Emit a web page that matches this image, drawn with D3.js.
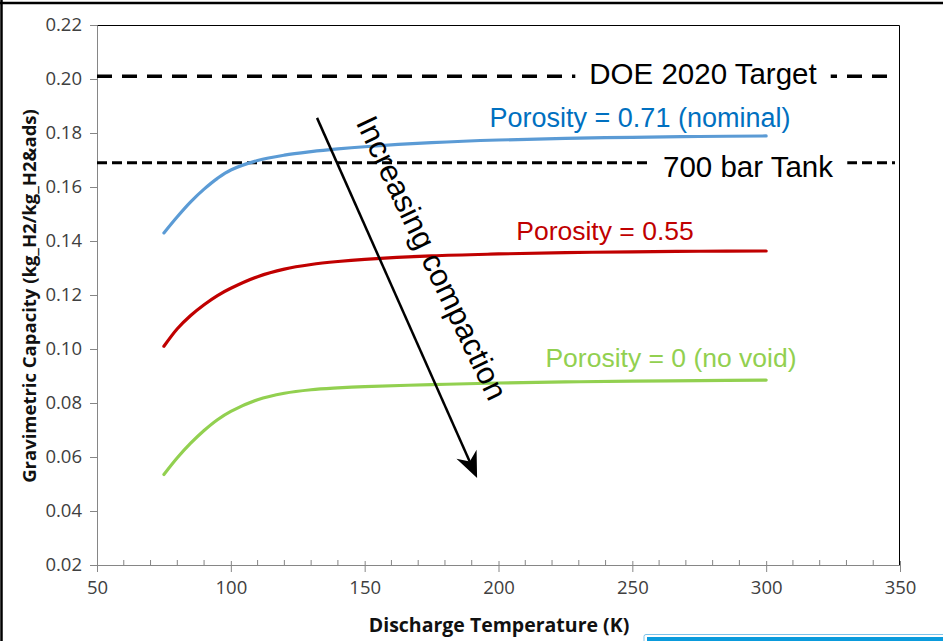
<!DOCTYPE html>
<html>
<head>
<meta charset="utf-8">
<script src="https://cdn.jsdelivr.net/npm/d3@7"></script>
<style>
html,body{margin:0;padding:0;background:#fff;}
svg{display:block;}
</style>
</head>
<body>
<svg id="chart" width="943" height="641"></svg>
<script>
// ---- data ----
const temperatures = [75, 80, 85, 90, 95, 100, 110, 120, 130, 140, 150, 175, 200, 225, 250, 275, 300];
const porosity071 = [0.143, 0.149, 0.1545, 0.1592, 0.1632, 0.1663, 0.1698, 0.1718, 0.1731, 0.1741, 0.1749, 0.1764, 0.1774, 0.178, 0.1784, 0.1787, 0.1789];
const porosity055 = [0.101, 0.1075, 0.1124, 0.1164, 0.1198, 0.1225, 0.1268, 0.1296, 0.1313, 0.1324, 0.1332, 0.1345, 0.1352, 0.1357, 0.136, 0.1362, 0.1363];
const porosity000 = [0.0535, 0.0597, 0.0651, 0.0698, 0.0738, 0.0769, 0.0812, 0.0836, 0.0849, 0.0856, 0.0861, 0.0868, 0.0874, 0.0878, 0.0881, 0.0883, 0.0885];
const seriesNames = ["Porosity = 0.71 (nominal)", "Porosity = 0.55", "Porosity = 0 (no void)"];
const doeTarget = 0.201;
const tank700 = 0.169;
const xTicks = [50, 100, 150, 200, 250, 300, 350];
const yTicks = [0.02, 0.04, 0.06, 0.08, 0.10, 0.12, 0.14, 0.16, 0.18, 0.20, 0.22];
const arrowFrom = [132.2, 0.1856];
const arrowTo = [192, 0.0522];

// ---- layout ----
const svg = d3.select("#chart");
const x = d3.scaleLinear().domain([50, 350]).range([97, 900]);
const y = d3.scaleLinear().domain([0.02, 0.22]).range([565, 25]);
const font = "'Liberation Sans', Arial, sans-serif";
const tickFont = "'Open Sans', 'Noto Sans', sans-serif";

// outer frame
svg.append("line").attr("x1", 0).attr("x2", 943).attr("y1", 3).attr("y2", 3).attr("stroke", "#000").attr("stroke-width", 2.5);
svg.append("line").attr("x1", 1.5).attr("x2", 1.5).attr("y1", 0).attr("y2", 641).attr("stroke", "#000").attr("stroke-width", 2.5);

// plot border (top & right)
svg.append("path")
  .attr("d", `M${x(50)},${y(0.22)+0.5}H${x(350)-0.5}V${y(0.02)}`)
  .attr("fill", "none").attr("stroke", "#000").attr("stroke-width", 1);

// y axis
const yAxis = svg.append("g").attr("transform", `translate(${x(50)},0)`)
  .call(d3.axisLeft(y).tickValues(yTicks).tickFormat(d3.format(".2f")).tickSize(7).tickPadding(8));
yAxis.select(".domain").attr("stroke", "#868686");
yAxis.selectAll(".tick line").attr("stroke", "#868686");
yAxis.selectAll("text").attr("font-family", tickFont).attr("font-size", 18.5).attr("fill", "#404040");

// x axis
const xAxis = svg.append("g").attr("transform", `translate(0,${y(0.02)})`)
  .call(d3.axisBottom(x).tickValues(xTicks).tickFormat(d3.format("d")).tickSize(7).tickPadding(9));
xAxis.select(".domain").attr("stroke", "#868686");
xAxis.selectAll(".tick line").attr("stroke", "#868686").attr("y1", -4);
xAxis.selectAll("text").attr("font-family", tickFont).attr("font-size", 18.5).attr("fill", "#404040");
// minor ticks
const minor = d3.range(60, 350, 10).filter(v => v % 50 !== 0);
xAxis.selectAll(".minor").data(minor).enter().append("line")
  .attr("x1", d => x(d)).attr("x2", d => x(d)).attr("y1", -5).attr("y2", 0)
  .attr("stroke", "#868686");

// axis titles
svg.append("text").attr("x", 499).attr("y", 632).attr("text-anchor", "middle")
  .attr("font-family", "'Open Sans', sans-serif").attr("font-weight", "bold").attr("font-size", 19.5).attr("fill", "#111")
  .text("Discharge Temperature (K)");
svg.append("text").attr("transform", "translate(36,296) rotate(-90)").attr("text-anchor", "middle")
  .attr("font-family", "'Open Sans', sans-serif").attr("font-weight", "bold").attr("font-size", 18.5).attr("fill", "#111")
  .text("Gravimetric Capacity (kg_H2/kg_H2&ads)");

// reference lines
svg.append("line").attr("x1", x(50)).attr("x2", x(350) - 7).attr("y1", y(doeTarget)).attr("y2", y(doeTarget))
  .attr("stroke", "#000").attr("stroke-width", 3.5).attr("stroke-dasharray", "15,10");
svg.append("line").attr("x1", x(50)).attr("x2", x(350) - 5).attr("y1", y(tank700)).attr("y2", y(tank700))
  .attr("stroke", "#000").attr("stroke-width", 3).attr("stroke-dasharray", "10,5");

// ref labels with white background
function refLabel(txt, cx, cy) {
  const g = svg.append("g");
  const t = g.append("text").attr("x", cx).attr("y", cy).attr("text-anchor", "middle")
    .attr("dominant-baseline", "central").attr("font-family", font).attr("font-size", 29.5).attr("fill", "#000").text(txt);
  const bb = t.node().getBBox();
  g.insert("rect", "text").attr("x", bb.x - 14).attr("y", bb.y).attr("width", bb.width + 28).attr("height", bb.height).attr("fill", "#fff");
}
refLabel("DOE 2020 Target", 703, y(doeTarget) - 3);
refLabel("700 bar Tank", 748, y(tank700) + 4);

// curves
const line = d3.line().x(d => x(d[0])).y(d => y(d[1])).curve(d3.curveCatmullRom.alpha(0.5));
const series = [
  { vals: porosity071, color: "#5B9BD5", text: "#0070C0", lx: 640, ly: 0.1855, fs: 27 },
  { vals: porosity055, color: "#C00000", text: "#C00000", lx: 605, ly: 0.1438, fs: 26.5 },
  { vals: porosity000, color: "#92D050", text: "#92D050", lx: 671, ly: 0.0967, fs: 26.5 }
];
series.forEach((s, i) => {
  svg.append("path").datum(temperatures.map((t, j) => [t, s.vals[j]]))
    .attr("d", line).attr("fill", "none").attr("stroke", s.color).attr("stroke-width", 3.2).attr("stroke-linecap", "round");
  svg.append("text").attr("x", s.lx).attr("y", y(s.ly)).attr("text-anchor", "middle").attr("dominant-baseline", "central")
    .attr("font-family", font).attr("font-size", s.fs).attr("fill", s.text).text(seriesNames[i]);
});

// arrow
const ax1 = x(arrowFrom[0]), ay1 = y(arrowFrom[1]), ax2 = x(arrowTo[0]), ay2 = y(arrowTo[1]);
const ang = Math.atan2(ay2 - ay1, ax2 - ax1);
const L = 26, W = 11, back = 18;
const ux = Math.cos(ang), uy = Math.sin(ang), px = -uy, py = ux;
svg.append("line").attr("x1", ax1).attr("y1", ay1).attr("x2", ax2 - ux * 10).attr("y2", ay2 - uy * 10)
  .attr("stroke", "#000").attr("stroke-width", 2.5);
svg.append("path")
  .attr("d", `M${ax2},${ay2}L${ax2 - ux*L + px*W},${ay2 - uy*L + py*W}L${ax2 - ux*back},${ay2 - uy*back}L${ax2 - ux*L - px*W},${ay2 - uy*L - py*W}Z`)
  .attr("fill", "#000");
svg.append("text").attr("transform", `translate(365,118) rotate(64.5)`)
  .attr("font-family", font).attr("font-size", 31).attr("fill", "#000").attr("dominant-baseline", "central")
  .text("Increasing compaction");

// bottom-right blue box fragment
svg.append("rect").attr("x", 644).attr("y", 634.5).attr("width", 310).attr("height", 12).attr("rx", 2)
  .attr("fill", "#fff").attr("stroke", "#7cc3ea").attr("stroke-width", 1);
svg.append("rect").attr("x", 647).attr("y", 637).attr("width", 310).attr("height", 10).attr("fill", "#0a9bdc");
</script>
</body>
</html>
